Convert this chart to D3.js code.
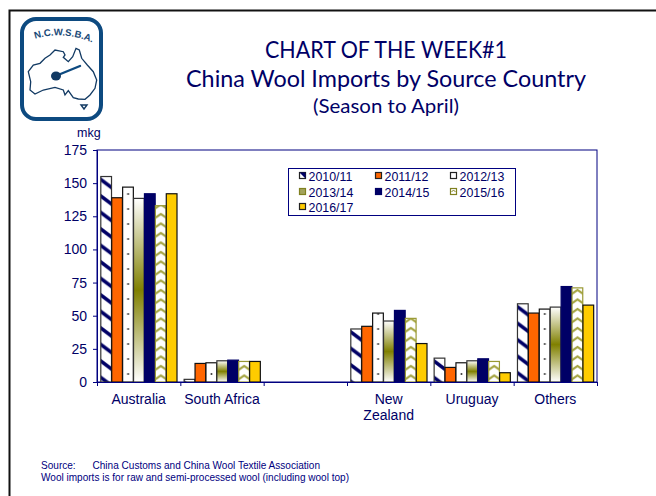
<!DOCTYPE html>
<html><head><meta charset="utf-8"><script src="https://cdn.jsdelivr.net/npm/d3@7/dist/d3.min.js"></script>
<style>html,body{margin:0;padding:0;background:#fff}svg{display:block}text{font-family:"Liberation Sans",Arial,sans-serif}</style></head>
<body><div id="c"></div><script>
const categories=["Australia","South Africa","","New Zealand","Uruguay","Others"];
const seasons=["2010/11","2011/12","2012/13","2013/14","2014/15","2015/16","2016/17"];
const y201011=[155,2,null,40,18,59];
const y201112=[139,14,null,42,11,52];
const y201213=[147,14.5,null,52,14.5,55];
const y201314=[138.5,16,null,46,16,56.5];
const y201415=[142,16.5,null,54,17.5,72];
const y201516=[133,15.5,null,48,15.5,71];
const y201617=[142,15.5,null,29,7,58];
const seriesValues=[y201011,y201112,y201213,y201314,y201415,y201516,y201617];
const yTicks=[0,25,50,75,100,125,150,175];
const navy="#000066", axisBlue="#000080", textBlue="#000080";

const svg=d3.select("#c").append("svg").attr("width",656).attr("height",496);
svg.append("rect").attr("width",656).attr("height",496).attr("fill","#fff");
svg.append("path").attr("d","M9.5,496 V10.5 H656").attr("fill","none").attr("stroke","#111").attr("stroke-width",2);

const defs=svg.append("defs");
// tiles are anchored to each bar, so every bar shows the same hatch
function hatch(id,tx,ty){
  const p=defs.append("pattern").attr("id",id).attr("patternUnits","userSpaceOnUse").attr("width",22).attr("height",16.5).attr("patternTransform",`translate(${tx},${ty})`);
  p.append("rect").attr("width",22).attr("height",16.5).attr("fill","#fff");
  p.append("path").attr("d","M-3,-2.25 L25,18.75 M-3,-18.75 L25,2.25 M-3,14.25 L25,35.25").attr("stroke",navy).attr("stroke-width",3.6).attr("fill","none");
}
function dots(id,tx,ty){
  const p=defs.append("pattern").attr("id",id).attr("patternUnits","userSpaceOnUse").attr("width",11).attr("height",15).attr("patternTransform",`translate(${tx},${ty})`);
  p.append("rect").attr("width",11).attr("height",15).attr("fill","#fff");
  p.append("circle").attr("cx",5.5).attr("cy",7).attr("r",1).attr("fill","#333");
}
function chevrons(id,tx,ty){
  const p=defs.append("pattern").attr("id",id).attr("patternUnits","userSpaceOnUse").attr("width",11).attr("height",9.5).attr("patternTransform",`translate(${tx},${ty})`);
  p.append("rect").attr("width",11).attr("height",9.5).attr("fill","#fff");
  p.append("path").attr("d","M-1,7.5 L5.5,3 L12,7.5").attr("stroke","#a3a33d").attr("stroke-width",2.2).attr("fill","none");
}
const makers={0:hatch,2:dots,5:chevrons};
const g3=defs.append("linearGradient").attr("id","p3").attr("x1",0).attr("x2",0).attr("y1",0).attr("y2",1);
g3.append("stop").attr("offset","0").attr("stop-color","#fff");
g3.append("stop").attr("offset","0.5").attr("stop-color","#808000");
g3.append("stop").attr("offset","1").attr("stop-color","#fff");
const fills=[null,"#ff6600",null,"url(#p3)",navy,null,"#ffcc00"];
const strokes=["#333","#111","#111","#333",navy,"#999933","#111"];

// header text
const title=[["CHART OF THE WEEK#1",58,24,242],["China Wool Imports by Source Country",87,24,400],["(Season to April)",113,19,146]];
svg.selectAll("text.t").data(title).join("text").attr("class","t").attr("x",386).attr("y",d=>d[1]).attr("text-anchor","middle")
 .attr("font-size",d=>d[2]).attr("fill",navy).attr("textLength",d=>d[3]).attr("lengthAdjust","spacingAndGlyphs").style("font-family","Lato,sans-serif").text(d=>d[0]);

// logo
const logo=svg.append("g");
logo.append("rect").attr("x",22).attr("y",19).attr("width",79).attr("height",100).attr("rx",14).attr("fill","#fff").attr("stroke","#0d4a80").attr("stroke-width",4);
defs.append("path").attr("id","arc").attr("d","M29,41 Q62,28 98,45");
logo.append("text").attr("font-size",9.6).attr("font-weight","bold").attr("fill","#1a4a78").append("textPath").attr("href","#arc").attr("startOffset","50%").attr("text-anchor","middle").text("N.C.W.S.B.A.");
logo.append("path").attr("d","M28.3,71.7 L33.3,65 L40,63.3 L45,58.3 L50,55 L55,50 L63.3,51.7 L65,55 L63.3,57.3 L68.3,61.7 L72.7,56.7 L76,48.3 L79.3,50 L81.7,58.3 L87.3,65 L93.3,71.7 L96.7,80 L95,88.3 L90,95 L85,99.3 L78.3,99 L73.3,97.7 L68.3,90.7 L65,95 L63.3,90 L55,87.3 L43.3,90 L35,94 L30,90 L30.7,81.7 Z")
 .attr("fill","#fff").attr("stroke","#123a63").attr("stroke-width",1.3);
logo.append("path").attr("d","M80,66 L58,75").attr("stroke","#0d4a80").attr("stroke-width",2.4).attr("stroke-linecap","round");
logo.append("ellipse").attr("cx",56).attr("cy",76).attr("rx",5).attr("ry",4.5).attr("fill","#123a63");
logo.append("path").attr("d","M81,105 L87,105 L84,109 Z").attr("fill","#fff").attr("stroke","#123a63").attr("stroke-width",1.4);

// chart
const m={l:97,r:597,t:150,b:382};
const x=d3.scaleBand().domain(categories.map((c,i)=>i)).range([m.l,m.r]);
const sub=d3.scaleBand().domain(seasons).range([3.6,80]);
const y=d3.scaleLinear().domain([0,175]).range([m.b,m.t]);

svg.append("rect").attr("x",m.l).attr("y",m.t).attr("width",m.r-m.l).attr("height",m.b-m.t).attr("fill","none").attr("stroke",axisBlue).attr("stroke-width",1);

seasons.forEach((s,si)=>{
  const barX=d=>x(d.i)+sub(s)+0.2;
  const fillFor=d=>{
    if(!makers[si]) return fills[si];
    const id=`p${si}_${d.i}`;
    makers[si](id,barX(d),si===0?y(d.v)+3:m.b);
    return `url(#${id})`;
  };
  svg.append("g").selectAll("rect").data(seriesValues[si].map((v,i)=>({v,i})).filter(d=>d.v!=null)).join("rect")
   .attr("x",barX).attr("y",d=>y(d.v)).attr("width",sub.bandwidth()-0.2)
   .attr("height",d=>y(0)-y(d.v)).attr("fill",fillFor).attr("stroke",strokes[si]).attr("stroke-width",1.2);
});

const ya=svg.append("g").attr("transform",`translate(${m.l},0)`).call(d3.axisLeft(y).tickValues(yTicks).tickSize(4).tickPadding(6));
ya.select(".domain").attr("stroke",axisBlue);
ya.selectAll("line").attr("stroke",axisBlue);
ya.selectAll("text").attr("font-size",14).attr("fill",navy).style("font-family","'Liberation Sans',Arial,sans-serif");

const xa=svg.append("g").attr("transform",`translate(0,${m.b})`).call(d3.axisBottom(d3.scaleLinear().domain([0,6]).range([m.l,m.r])).tickValues([0,1,2,3,4,5,6]).tickSize(4).tickFormat(""));
xa.select(".domain").attr("stroke",axisBlue);
xa.selectAll("line").attr("stroke",axisBlue);

const labels=svg.append("g").selectAll("text").data(categories).join("text")
 .attr("x",(d,i)=>x(i)+x.bandwidth()/2).attr("y",404).attr("text-anchor","middle").attr("font-size",14).attr("fill",navy);
labels.each(function(d){
  const t=d3.select(this);
  if(d==="New Zealand"){
    t.append("tspan").attr("x",t.attr("x")).text("New");
    t.append("tspan").attr("x",t.attr("x")).attr("dy",16).text("Zealand");
  } else t.text(d);
});

svg.append("text").attr("x",77).attr("y",137).attr("font-size",12.5).attr("fill",navy).text("mkg");

// legend
const lg=svg.append("g");
lg.append("rect").attr("x",288.5).attr("y",168.5).attr("width",227).attr("height",47).attr("fill","#fff").attr("stroke",axisBlue).attr("stroke-width",1);
const lcol=d3.scaleOrdinal().domain([0,1,2]).range([299.5,375.5,450.5]);
const lrow=d3.scaleOrdinal().domain([0,1,2]).range([176,192,207]);
seasons.forEach((s,i)=>{
  const c=i%3, r=Math.floor(i/3);
  const sw=lg.append("rect").attr("x",lcol(c)).attr("y",lrow(r)-3.5).attr("width",6).attr("height",6)
    .attr("fill",i==3?"#a3a35c":i==0||i==2||i==5?"#fff":fills[i]).attr("stroke",i==5||i==3?"#808020":i==4?navy:"#222").attr("stroke-width",1.2);
  if(i==0) lg.append("path").attr("d",`M${lcol(c)},${lrow(r)-3.5} h6 v6 Z`).attr("fill",navy);
  if(i==5) lg.append("path").attr("d",`M${lcol(c)+1},${lrow(r)} l2,-2 l2,2`).attr("fill","none").attr("stroke","#808020");
  lg.append("text").attr("x",lcol(c)+9).attr("y",lrow(r)+4.5).attr("font-size",12.4).attr("fill",navy).text(s);
});

// footer
const notes=[["Source:",41,469],["China Customs and China Wool Textile Association",92.5,469],["Wool imports is for raw and semi-processed wool (including wool top)",41,481]];
svg.append("g").selectAll("text").data(notes).join("text").attr("x",d=>d[1]).attr("y",d=>d[2]).attr("font-size",10.05).attr("fill",textBlue).text(d=>d[0]);
</script></body></html>
